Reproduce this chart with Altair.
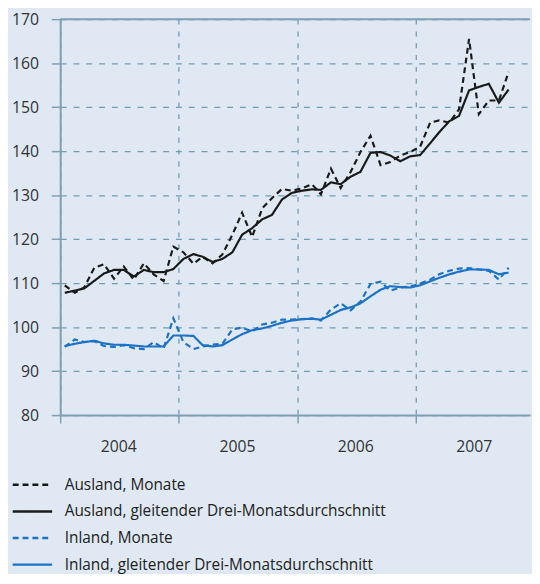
import altair as alt
import pandas as pd

# monthly observations Jan 2004 - Oct 2007 (plotted mid-month)
years = [2004, 2005, 2006, 2007]
months = [f"{y}-{m:02d}-15" for y in years for m in range(1, 13)][:46]

ausland_monate = [109.5, 107.8, 109.0, 113.5, 114.3, 111.0, 113.8, 110.8, 114.5, 112.0, 110.5, 118.3,
                  117.0, 114.4, 116.0, 114.5, 116.5, 121.0, 126.0, 120.5, 127.0, 129.3, 131.4, 131.0,
                  131.5, 132.5, 130.2, 136.0, 131.6, 135.3, 139.8, 143.5, 136.8, 137.5, 139.0, 139.8,
                  141.0, 146.5, 147.0, 146.5, 149.5, 165.5, 148.4, 151.5, 151.5, 158.0]
ausland_gd = [107.8, 108.3, 108.8, 110.5, 112.2, 113.0, 113.0, 111.5, 113.0, 112.5, 112.5, 113.2,
              115.5, 116.6, 116.0, 114.8, 115.5, 117.0, 121.0, 122.5, 124.5, 125.5, 129.0, 130.5,
              131.0, 131.3, 131.2, 132.9, 132.5, 134.2, 135.3, 139.6, 139.8, 139.0, 137.7, 138.8,
              139.1, 141.8, 144.3, 146.8, 148.0, 153.8, 154.6, 155.3, 151.0, 154.0]
inland_monate = [95.5, 97.2, 96.6, 96.8, 95.7, 95.5, 95.9, 95.2, 95.0, 96.6, 95.2, 102.0,
                 96.6, 95.0, 95.6, 96.0, 96.2, 99.5, 99.9, 99.0, 100.6, 101.0, 101.7, 101.7,
                 101.8, 102.0, 101.5, 104.0, 105.4, 103.8, 105.8, 109.8, 110.3, 108.3, 109.0, 109.2,
                 109.9, 110.8, 112.0, 112.8, 113.3, 113.4, 113.1, 112.8, 110.8, 113.5]
inland_gd = [95.7, 96.2, 96.6, 96.9, 96.3, 96.0, 96.0, 95.8, 95.6, 95.6, 95.6, 98.1,
             98.1, 98.0, 95.9, 95.6, 95.9, 97.2, 98.4, 99.3, 99.7, 100.3, 101.0, 101.5,
             101.8, 101.9, 101.7, 102.8, 103.9, 104.5, 105.4, 107.0, 108.5, 109.3, 109.1, 109.0,
             109.5, 110.4, 111.2, 112.0, 112.6, 113.1, 113.1, 113.0, 112.0, 112.4]

series_names = ["Ausland, Monate", "Ausland, gleitender Drei-Monatsdurchschnitt",
                "Inland, Monate", "Inland, gleitender Drei-Monatsdurchschnitt"]
series_values = [ausland_monate, ausland_gd, inland_monate, inland_gd]
y_ticks = [80, 90, 100, 110, 120, 130, 140, 150, 160, 170]

rows = []
for name, vals in zip(series_names, series_values):
    for i, (d, v) in enumerate(zip(months, vals)):
        rows.append({"date": d, "value": v, "series": name, "order": i})
df = pd.DataFrame(rows)

AXIS_COL = "#7f9fb2"
GRID_COL = "#6f9db6"
TEXT_COL = "#333333"
FONT = "Open Sans"

x_scale = alt.Scale(domain=[alt.DateTime(year=2004, month=1, date=1),
                            alt.DateTime(year=2007, month=12, date=20)])
y_scale = alt.Scale(domain=[80, 170], nice=False, zero=False)

legend = alt.Legend(title=None, orient="none", legendX=-36, legendY=465,
                    symbolType="M-4,0H4", symbolSize=100, symbolStrokeWidth=2.5,
                    symbolFillColor="transparent",
                    labelFontSize=15.6, labelFont=FONT, labelColor="#222222",
                    labelOffset=25, rowPadding=10, padding=0, labelLimit=500)

lines = alt.Chart(df).mark_line(strokeWidth=2.2).encode(
    x=alt.X("date:T", scale=x_scale, title=None,
            axis=alt.Axis(values=[alt.DateTime(year=y, month=1, date=1) for y in years],
                          format="%Y", labelOffset=59, labelPadding=16, tickSize=8,
                          tickColor=AXIS_COL, tickWidth=1.5, domainColor=AXIS_COL,
                          domainWidth=2, grid=True, gridColor=GRID_COL, gridDash=[5, 7],
                          gridWidth=1.3, labelFontSize=16, labelFont=FONT,
                          labelColor=TEXT_COL, labelAlign="center")),
    y=alt.Y("value:Q", scale=y_scale, title=None,
            axis=alt.Axis(values=y_ticks, tickSize=9, tickColor=AXIS_COL, tickWidth=1.5,
                          domainColor=AXIS_COL, domainWidth=2, labelPadding=13,
                          grid=True, gridColor=GRID_COL, gridDash=[6, 7], gridWidth=1.3,
                          labelFontSize=16, labelFont=FONT, labelColor=TEXT_COL)),
    color=alt.Color("series:N", scale=alt.Scale(domain=series_names,
                    range=["#1a1a1a", "#1a1a1a", "#1c72c6", "#1c72c6"]), legend=legend),
    strokeDash=alt.StrokeDash("series:N", scale=alt.Scale(domain=series_names,
                    range=[[6, 4], [1, 0], [6, 4], [1, 0]]), legend=legend),
    order="order:Q",
)

top = alt.Chart(pd.DataFrame({"v": [170]})).mark_rule(color=AXIS_COL, strokeWidth=2).encode(
    y=alt.Y("v:Q", scale=y_scale))

chart = alt.layer(top, lines).properties(
    width=477, height=402,
    autosize=alt.AutoSizeParams(type="none"),
    padding={"left": 53, "top": 7, "right": 2, "bottom": 157},
    background="#dfe8f3",
).configure_view(stroke=None)

chart.save("out.html", embed_options={"renderer": "svg", "actions": False})
